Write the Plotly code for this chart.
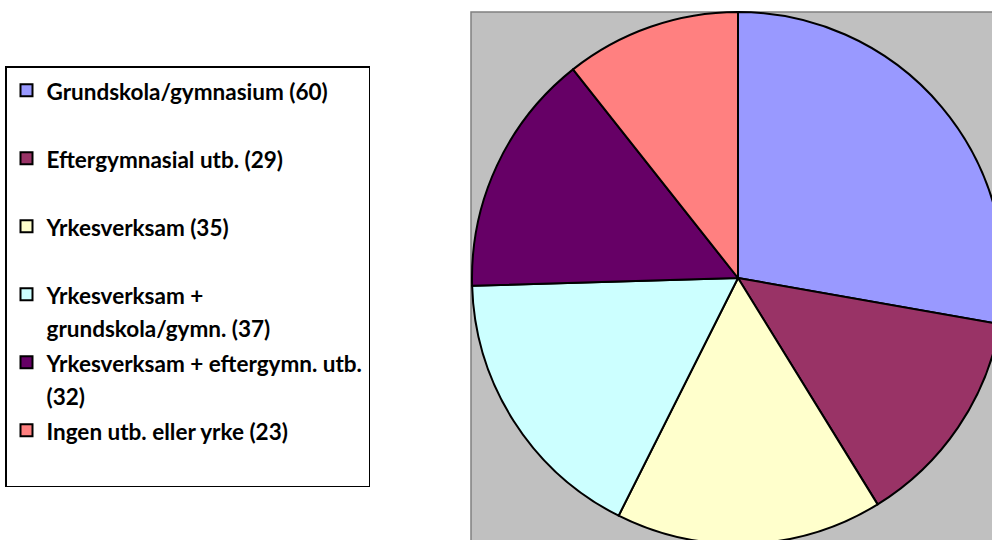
import plotly.graph_objects as go

# Utbildning / sysselsättning, antal
categories = [
    "Grundskola/gymnasium (60)",
    "Eftergymnasial utb. (29)",
    "Yrkesverksam (35)",
    "Yrkesverksam +<br>grundskola/gymn. (37)",
    "Yrkesverksam + eftergymn. utb.<br>(32)",
    "Ingen utb. eller yrke (23)",
]
values = [60, 29, 35, 37, 32, 23]
colors = ["#9999FF", "#993366", "#FFFFCC", "#CCFFFF", "#660066", "#FF8080"]

W, H = 1004, 544


def legend_label(text):
    # synlig text i mindre span, extra tom rad ger Excel-likt avstånd
    lines = text.split("<br>")
    body = "<br>".join(f"<span style='font-size:22.5px'>{ln}</span>" for ln in lines)
    if len(lines) == 1:
        body += "<br> "
    return body


fig = go.Figure()

fig.add_trace(go.Pie(
    labels=[legend_label(c) for c in categories],
    values=values,
    marker=dict(colors=colors, line=dict(color="black", width=2)),
    sort=False,
    direction="clockwise",
    rotation=0,
    textinfo="none",
    hoverinfo="label+value",
    domain=dict(x=[472 / W, 1], y=[0, 1 - 12 / H]),
))

# grå bakgrund bakom cirkeln
fig.add_shape(
    type="rect", xref="paper", yref="paper",
    x0=471 / W, x1=1.05, y0=-0.05, y1=1 - 12 / H,
    fillcolor="#C0C0C0", line=dict(color="#808080", width=1.5),
    layer="below",
)

fig.update_layout(
    width=W,
    height=H,
    autosize=False,
    margin=dict(l=0, r=0, t=0, b=0),
    paper_bgcolor="white",
    plot_bgcolor="white",
    showlegend=True,
    legend=dict(
        x=5 / W, y=1 - 66 / H, xanchor="left", yanchor="top",
        bgcolor="white", bordercolor="black", borderwidth=1.5,
        font=dict(family="Lato", size=25, color="black", weight="bold"),
        valign="top",
    ),
)

fig.write_html(
    "out.html",
    config={"displayModeBar": False},
    post_script="document.body.style.margin='0';document.body.style.overflow='hidden';",
)
